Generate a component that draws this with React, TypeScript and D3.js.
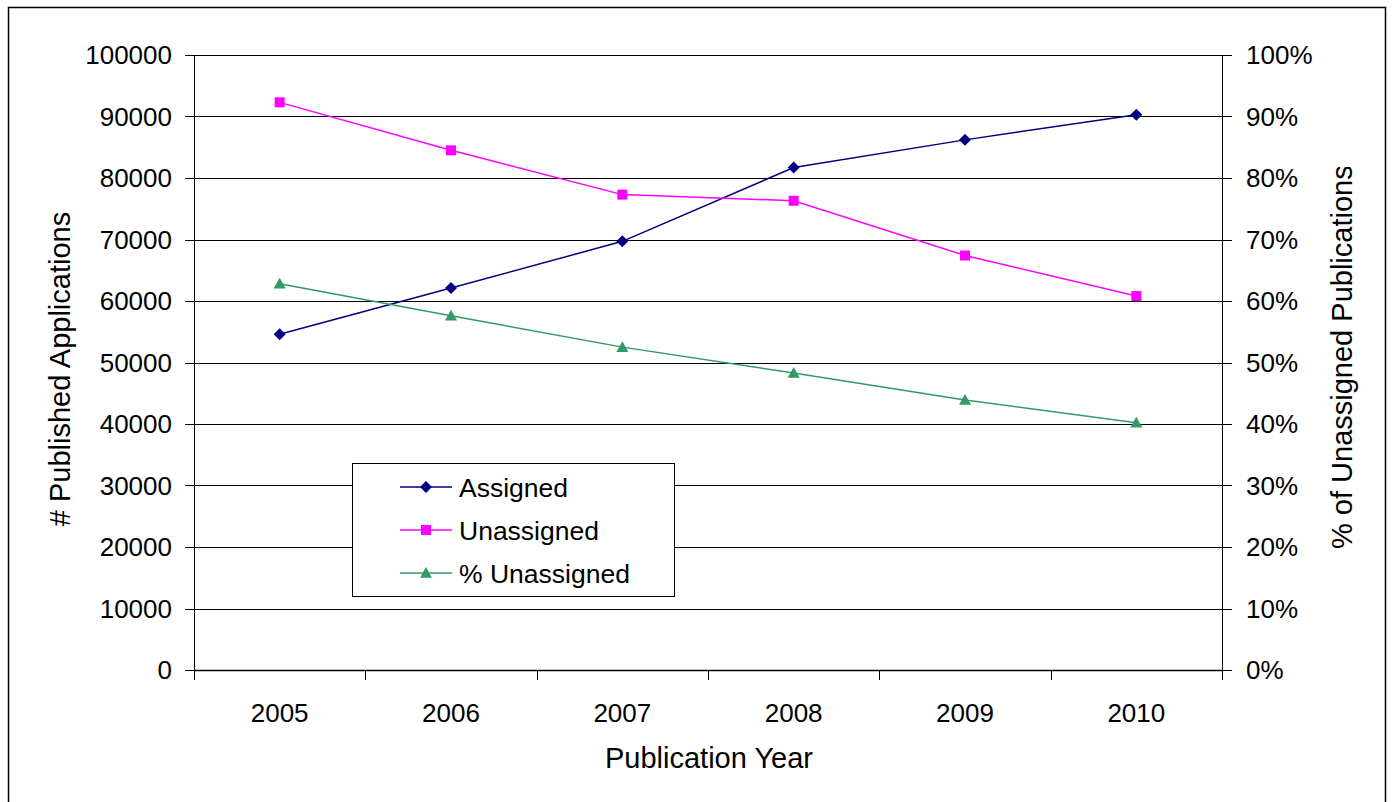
import React from "react";
import * as d3 from "d3";

const years = ["2005", "2006", "2007", "2008", "2009", "2010"];
const assigned = [54600, 62100, 69700, 81700, 86200, 90300];
const unassigned = [92300, 84500, 77300, 76300, 67400, 60800];
const pctUnassigned = [0.628, 0.576, 0.525, 0.483, 0.439, 0.402];
const leftTicks = [0, 10000, 20000, 30000, 40000, 50000, 60000, 70000, 80000, 90000, 100000];
const rightTicks = [0, 0.1, 0.2, 0.3, 0.4, 0.5, 0.6, 0.7, 0.8, 0.9, 1.0];

const W = 1392, H = 802;
const L = 194, R = 1222, T = 55, B = 670;
const FONT = "'Liberation Sans', Arial, sans-serif";

export default function App() {
  const x = d3.scaleBand<string>().domain(years).range([L, R]);
  const yL = d3.scaleLinear().domain([0, 100000]).range([B, T]);
  const yR = d3.scaleLinear().domain([0, 1]).range([B, T]);
  const cx = (i: number) => (x(years[i]) as number) + x.bandwidth() / 2;

  const lineL = d3.line<number>().x((_, i) => cx(i)).y((d) => yL(d));
  const lineR = d3.line<number>().x((_, i) => cx(i)).y((d) => yR(d));

  const diamond = (px: number, py: number, s = 6) =>
    `M${px},${py - s}L${px + s},${py}L${px},${py + s}L${px - s},${py}Z`;
  const triangle = (px: number, py: number, s = 6) =>
    `M${px},${py - s}L${px + s},${py + s * 0.8}L${px - s},${py + s * 0.8}Z`;

  const navy = "#000080", magenta = "#FF00FF", green = "#339966";
  const fs = 26;
  const tfs = 29;

  const legendItems = [
    { label: "Assigned", color: navy, kind: "d" },
    { label: "Unassigned", color: magenta, kind: "s" },
    { label: "% Unassigned", color: green, kind: "t" },
  ];
  const legendY = [487, 530, 573];

  return (
    <svg width={W} height={H} style={{ display: "block", position: "absolute", left: 0, top: 0 }} fontFamily={FONT}>
      <defs>
        <clipPath id="rclip">
          <rect x={0} y={167} width={W} height={H} />
        </clipPath>
      </defs>
      <rect x={0} y={0} width={W} height={H} fill="#fff" />
      <rect x={8.5} y={7.5} width={1377} height={H} fill="none" stroke="#000" strokeWidth={1.5} />

      {/* gridlines */}
      {leftTicks.map((t) => (
        <line key={"g" + t} x1={L} x2={R} y1={Math.round(yL(t)) + 0.5} y2={Math.round(yL(t)) + 0.5} stroke="#000" strokeWidth={1} />
      ))}

      {/* left axis */}
      <line x1={L + 0.5} x2={L + 0.5} y1={T} y2={B + 10} stroke="#000" />
      {leftTicks.map((t) => (
        <g key={"l" + t}>
          <line x1={L - 9} x2={L} y1={Math.round(yL(t)) + 0.5} y2={Math.round(yL(t)) + 0.5} stroke="#000" />
          <text x={172} y={yL(t)} dy="0.36em" textAnchor="end" fontSize={fs}>{t}</text>
        </g>
      ))}

      {/* right axis */}
      <line x1={R + 0.5} x2={R + 0.5} y1={T} y2={B + 10} stroke="#000" />
      {rightTicks.map((t) => (
        <g key={"r" + t}>
          <line x1={R} x2={R + 10} y1={Math.round(yR(t)) + 0.5} y2={Math.round(yR(t)) + 0.5} stroke="#000" />
          <text x={1246} y={yR(t)} dy="0.36em" textAnchor="start" fontSize={fs}>{d3.format(".0%")(t)}</text>
        </g>
      ))}

      {/* x axis */}
      <line x1={L} x2={R} y1={B + 0.5} y2={B + 0.5} stroke="#000" strokeWidth={1.5} />
      {years.concat(["end"]).map((_, i) => {
        const px = Math.round(L + i * x.bandwidth()) + 0.5;
        return <line key={"xt" + i} x1={px} x2={px} y1={B} y2={B + 10} stroke="#000" />;
      })}
      {years.map((yr, i) => (
        <text key={"xl" + yr} x={cx(i)} y={713} dy="0.36em" textAnchor="middle" fontSize={fs}>{yr}</text>
      ))}

      {/* axis titles */}
      <text x={709} y={768} textAnchor="middle" fontSize={tfs}>Publication Year</text>
      <text transform={`translate(60,369) rotate(-90)`} dy="0.36em" textAnchor="middle" fontSize={tfs}># Published Applications</text>
      <g clipPath="url(#rclip)">
        <text transform={`translate(1342,549) rotate(-90)`} dy="0.36em" textAnchor="start" fontSize={tfs}>% of Unassigned Publications</text>
      </g>

      {/* series */}
      <path d={lineL(assigned) || ""} fill="none" stroke={navy} strokeWidth={1.5} />
      <path d={lineL(unassigned) || ""} fill="none" stroke={magenta} strokeWidth={1.5} />
      <path d={lineR(pctUnassigned) || ""} fill="none" stroke={green} strokeWidth={1.5} />
      {assigned.map((v, i) => (
        <path key={"a" + i} d={diamond(cx(i), yL(v))} fill={navy} />
      ))}
      {unassigned.map((v, i) => (
        <rect key={"u" + i} x={cx(i) - 5} y={yL(v) - 5} width={10} height={10} fill={magenta} />
      ))}
      {pctUnassigned.map((v, i) => (
        <path key={"p" + i} d={triangle(cx(i), yR(v))} fill={green} />
      ))}

      {/* legend */}
      <rect x={352.5} y={463.5} width={322} height={133} fill="#fff" stroke="#000" strokeWidth={1} />
      {legendItems.map((it, i) => {
        const ly = legendY[i];
        return (
          <g key={it.label}>
            <line x1={400} x2={452} y1={ly} y2={ly} stroke={it.color} strokeWidth={1.5} />
            {it.kind === "d" && <path d={diamond(426, ly)} fill={it.color} />}
            {it.kind === "s" && <rect x={421} y={ly - 5} width={10} height={10} fill={it.color} />}
            {it.kind === "t" && <path d={triangle(426, ly)} fill={it.color} />}
            <text x={459} y={ly} dy="0.36em" fontSize={26.5}>{it.label}</text>
          </g>
        );
      })}
    </svg>
  );
}
